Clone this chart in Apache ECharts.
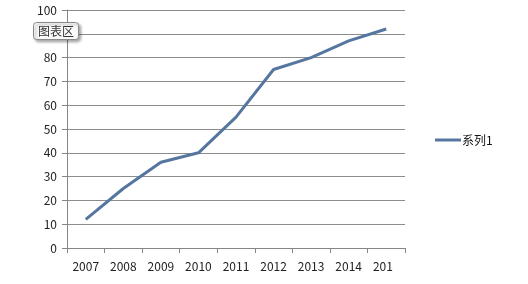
<!DOCTYPE html>
<html>
<head>
<meta charset="utf-8">
<script src="https://cdn.jsdelivr.net/npm/echarts@6/dist/echarts.min.js"></script>
<style>
    html, body { margin: 0; padding: 0; background: #fff; }
    #chart { width: 528px; height: 284px; }
</style>
</head>
<body>
<div id="chart"></div>
<script>
const years = ['2007', '2008', '2009', '2010', '2011', '2012', '2013', '2014', '2015']
const series1 = [12, 25, 36, 40, 55, 75, 80, 87, 92]
const seriesName = '系列1'

const font = '"Noto Sans CJK SC", "DejaVu Sans", sans-serif'
const chart = echarts.init(document.getElementById('chart'))

const options = {
    animation: false,
    title: {
        text: '图表区',
        left: 33,
        top: 22,
        padding: [3, 5],
        backgroundColor: '#fafafa',
        borderColor: '#8a8a8a',
        borderWidth: 1,
        borderRadius: 3,
        shadowColor: 'rgba(0,0,0,0.35)',
        shadowBlur: 3,
        shadowOffsetX: 2,
        shadowOffsetY: 2,
        textStyle: {
            fontFamily: font,
            fontSize: 12,
            fontWeight: 'normal',
            color: '#333'
        }
    },
    legend: {
        orient: 'vertical',
        left: 430,
        top: 129,
        itemWidth: 26,
        itemHeight: 3,
        itemGap: 4,
        icon: 'rect',
        data: [seriesName],
        textStyle: {
            fontFamily: font,
            fontSize: 12,
            color: '#111',
            padding: [0, 0, 0, -4]
        }
    },
    grid: {
        left: 67,
        top: 10,
        right: 123,
        bottom: 36
    },
    xAxis: {
        type: 'category',
        data: years,
        boundaryGap: true,
        axisLine: { lineStyle: { color: '#868686', width: 1 } },
        axisTick: { show: true, length: 5, lineStyle: { color: '#868686' } },
        axisLabel: {
            margin: 12,
            fontFamily: font,
            fontSize: 12,
            color: '#222'
        },
        splitLine: { show: false }
    },
    yAxis: {
        type: 'value',
        min: 0,
        max: 100,
        interval: 10,
        axisLine: { show: true, lineStyle: { color: '#868686', width: 1 } },
        axisTick: { show: true, length: 5, lineStyle: { color: '#868686' } },
        axisLabel: {
            margin: 10,
            fontFamily: font,
            fontSize: 12,
            color: '#222'
        },
        splitLine: { show: true, lineStyle: { color: '#8c8c8c', width: 1 } }
    },
    graphic: [
        {
            type: 'rect',
            left: 393,
            top: 256,
            shape: { width: 30, height: 24 },
            style: { fill: '#fff' },
            z: 100
        }
    ],
    series: [
        {
            name: seriesName,
            type: 'line',
            data: series1,
            symbol: 'none',
            lineStyle: { color: '#5676a0', width: 3 },
            itemStyle: { color: '#5676a0' }
        }
    ]
}
chart.setOption(options)
</script>
</body>
</html>
